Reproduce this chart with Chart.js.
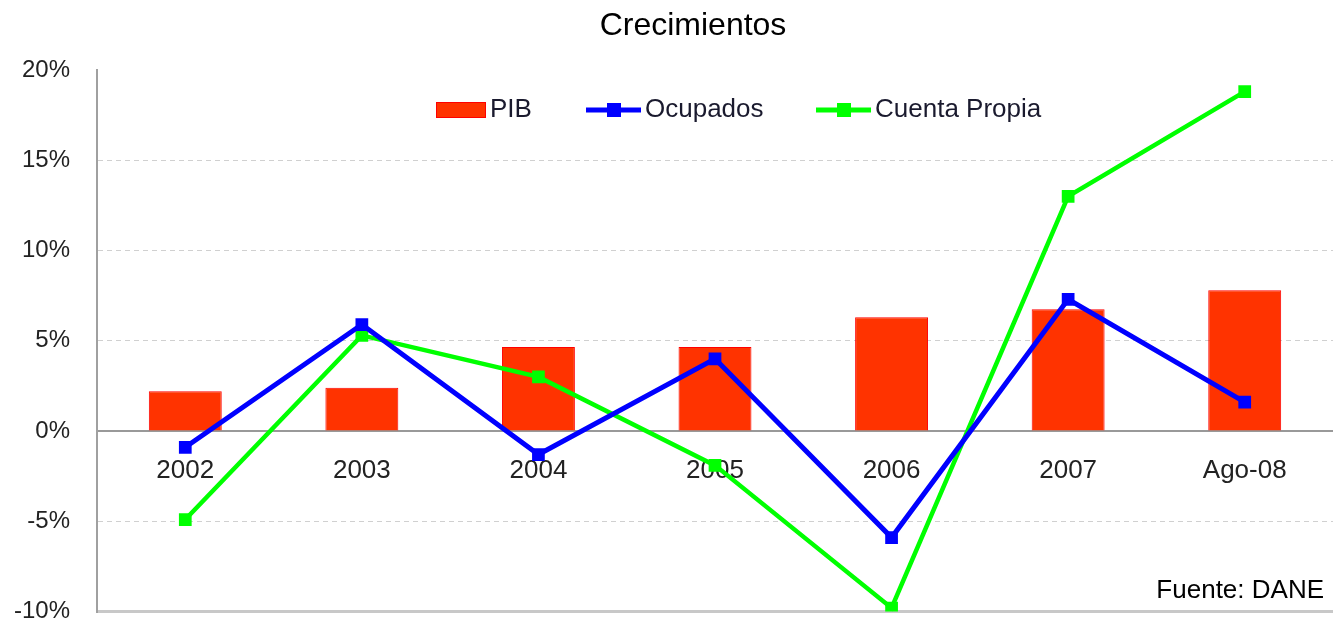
<!DOCTYPE html>
<html>
<head>
<meta charset="utf-8">
<script src="https://cdn.jsdelivr.net/npm/chart.js@4"></script>
<style>
  body { margin: 0; background: #fff; overflow: hidden; }
  #wrap { width: 1333px; height: 623px; overflow: hidden; }
</style>
</head>
<body>
<div id="wrap"><canvas id="growthChart" width="1333" height="653"></canvas></div>
<script>
const years = ["2002", "2003", "2004", "2005", "2006", "2007", "Ago-08"];
const pib = [2.2, 2.4, 4.65, 4.65, 6.3, 6.75, 7.8];
const ocupados = [-0.9, 5.9, -1.3, 4.0, -5.9, 7.3, 1.6];
const cuentaPropia = [-4.9, 5.3, 3.0, -1.9, -9.8, 13.0, 18.8];

const FONT = "'Liberation Sans', Arial, sans-serif";
const TEXT = "#1a1a2e";

// title, legend inside the plot area and the source note
const extras = {
  id: "extras",
  afterDraw(chart) {
    const c = chart.ctx;
    const area = chart.chartArea;
    const ds = chart.data.datasets;
    c.save();
    c.textBaseline = "middle";

    c.font = "32px " + FONT;
    c.fillStyle = "#000";
    c.textAlign = "center";
    c.fillText("Crecimientos", 693, 26);

    c.textAlign = "left";
    c.font = "26px " + FONT;
    const y = area.top + 40;

    // PIB swatch
    c.fillStyle = ds[0].backgroundColor;
    c.fillRect(436, y - 8, 50, 16);
    c.strokeStyle = ds[0].borderColor;
    c.lineWidth = 1;
    c.strokeRect(436.5, y - 7.5, 49, 15);
    c.fillStyle = TEXT;
    c.fillText(ds[0].label, 490, y);

    // line entries
    [[1, 586], [2, 816]].forEach(([i, lx]) => {
      const d = ds[i];
      c.strokeStyle = d.borderColor;
      c.lineWidth = 5;
      c.beginPath();
      c.moveTo(lx, y);
      c.lineTo(lx + 55, y);
      c.stroke();
      c.fillStyle = d.borderColor;
      c.fillRect(lx + 21, y - 7, 14, 14);
      c.fillStyle = TEXT;
      c.fillText(d.label, lx + 59, y);
    });

    c.font = "26px " + FONT;
    c.fillStyle = "#000";
    c.textAlign = "right";
    c.fillText("Fuente: DANE", area.right - 9, area.bottom - 21);
    c.restore();
  }
};

new Chart(document.getElementById("growthChart"), {
  data: {
    labels: years,
    datasets: [
      {
        type: "bar",
        label: "PIB",
        data: pib,
        backgroundColor: "#FF3300",
        borderColor: "#FF0000",
        borderWidth: 1,
        barPercentage: 0.413,
        categoryPercentage: 1,
        order: 3
      },
      {
        type: "line",
        label: "Ocupados",
        data: ocupados,
        borderColor: "#0000FF",
        backgroundColor: "#0000FF",
        borderWidth: 5,
        pointStyle: "rect",
        pointRadius: 9,
        pointBorderWidth: 0,
        order: 1
      },
      {
        type: "line",
        label: "Cuenta Propia",
        data: cuentaPropia,
        borderColor: "#00FF00",
        backgroundColor: "#00FF00",
        borderWidth: 4.5,
        pointStyle: "rect",
        pointRadius: 9,
        pointBorderWidth: 0,
        order: 2
      }
    ]
  },
  options: {
    responsive: false,
    animation: false,
    devicePixelRatio: 1,
    layout: { autoPadding: false, padding: { left: 10, right: 0, top: 70, bottom: 0 } },
    plugins: {
      legend: { display: false },
      tooltip: { enabled: false },
      title: { display: false }
    },
    scales: {
      x: {
        position: { y: 0 },
        grid: { display: false },
        border: { display: true, color: "#999", width: 2 },
        ticks: {
          color: "#222",
          padding: 16,
          font: { family: FONT, size: 26 }
        }
      },
      y: {
        min: -10,
        max: 20,
        afterFit: scale => { scale.width = 87; },
        grid: {
          drawTicks: false,
          color: ctx => {
            const v = ctx.tick.value;
            if (v === -10) return "#c8c8c8";
            return (v === 0 || v === 20) ? "rgba(0,0,0,0)" : "#d0d0d0";
          },
          lineWidth: ctx => (ctx.tick.value === -10 ? 3 : 1)
        },
        border: {
          display: true,
          color: "#a0a0a0",
          width: 2,
          dash: ctx => (ctx.tick && ctx.tick.value === -10 ? [] : [5, 4])
        },
        ticks: {
          stepSize: 5,
          padding: 27,
          color: "#222",
          font: { family: FONT, size: 24 },
          callback: v => v + "%"
        }
      }
    }
  },
  plugins: [extras]
});
</script>
</body>
</html>
